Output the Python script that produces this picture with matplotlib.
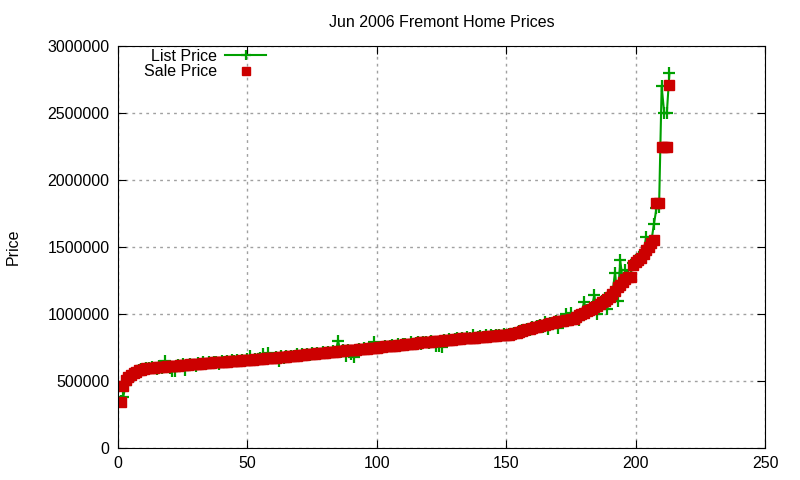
import matplotlib
matplotlib.use("Agg")
import matplotlib.pyplot as plt

plt.rcParams["font.family"] = ["Liberation Sans", "DejaVu Sans"]

# sale prices, sorted, one per home (index 1..213)
sale_price = [
    340000, 460000, 510000, 530000, 545000, 560000, 570000, 580000, 585000, 590000,
    595000, 598000, 600000, 600000, 602000, 605000, 605000, 608000, 610000, 610000,
    612000, 615000, 615000, 618000, 620000, 620000, 622000, 625000, 625000, 628000,
    630000, 630000, 632000, 635000, 635000, 638000, 640000, 640000, 640000, 642000,
    645000, 645000, 648000, 650000, 650000, 650000, 652000, 655000, 655000, 658000,
    660000, 660000, 662000, 665000, 665000, 668000, 670000, 670000, 672000, 675000,
    675000, 678000, 680000, 680000, 682000, 685000, 688000, 690000, 690000, 692000,
    695000, 698000, 700000, 700000, 702000, 705000, 708000, 710000, 710000, 712000,
    715000, 718000, 720000, 720000, 722000, 725000, 725000, 728000, 730000, 730000,
    732000, 735000, 738000, 740000, 740000, 742000, 745000, 748000, 750000, 750000,
    752000, 755000, 758000, 760000, 760000, 762000, 765000, 768000, 770000, 772000,
    775000, 778000, 780000, 780000, 782000, 785000, 788000, 790000, 790000, 792000,
    795000, 798000, 800000, 800000, 802000, 805000, 808000, 810000, 810000, 812000,
    815000, 815000, 818000, 820000, 820000, 822000, 825000, 825000, 828000, 830000,
    830000, 832000, 835000, 835000, 835000, 838000, 840000, 840000, 840000, 842000,
    845000, 850000, 855000, 860000, 868000, 875000, 880000, 885000, 890000, 895000,
    900000, 905000, 910000, 915000, 920000, 925000, 930000, 935000, 940000, 945000,
    948000, 950000, 955000, 958000, 960000, 965000, 975000, 990000, 1000000, 1010000,
    1020000, 1030000, 1040000, 1050000, 1060000, 1075000, 1090000, 1100000, 1115000, 1130000,
    1150000, 1170000, 1200000, 1220000, 1240000, 1260000, 1275000, 1280000, 1370000, 1390000,
    1400000, 1420000, 1450000, 1480000, 1500000, 1530000, 1550000, 1830000, 1830000, 2250000,
    2250000, 2250000, 2710000,
]

# asking prices for the same homes
list_price = [
    350000, 380000, 470000, 520000, 540000, 555000, 575000, 580000, 590000, 585000,
    600000, 595000, 605000, 600000, 590000, 610000, 600000, 650000, 615000, 600000,
    575000, 575000, 620000, 610000, 625000, 585000, 620000, 630000, 620000, 615000,
    635000, 628000, 640000, 630000, 640000, 635000, 645000, 640000, 630000, 648000,
    640000, 650000, 645000, 655000, 648000, 655000, 650000, 660000, 650000, 665000,
    690000, 655000, 665000, 660000, 670000, 700000, 665000, 712000, 670000, 675000,
    680000, 650000, 685000, 675000, 690000, 680000, 690000, 685000, 700000, 690000,
    700000, 695000, 705000, 698000, 710000, 700000, 712000, 705000, 715000, 710000,
    718000, 712000, 725000, 715000, 800000, 720000, 730000, 690000, 735000, 700000,
    680000, 735000, 740000, 730000, 748000, 740000, 745000, 752000, 790000, 745000,
    755000, 750000, 765000, 755000, 760000, 770000, 760000, 775000, 765000, 778000,
    780000, 770000, 790000, 778000, 785000, 790000, 780000, 795000, 790000, 785000,
    800000, 790000, 760000, 765000, 755000, 810000, 800000, 815000, 805000, 815000,
    820000, 812000, 825000, 815000, 830000, 820000, 845000, 825000, 830000, 835000,
    828000, 840000, 830000, 845000, 835000, 840000, 845000, 838000, 850000, 840000,
    850000, 845000, 860000, 855000, 870000, 880000, 875000, 890000, 880000, 900000,
    895000, 910000, 920000, 905000, 940000, 890000, 935000, 925000, 945000, 895000,
    955000, 950000, 1000000, 960000, 1005000, 970000, 960000, 955000, 1000000, 1090000,
    1030000, 1020000, 1050000, 1140000, 1000000, 1080000, 1100000, 1120000, 1040000, 1130000,
    1160000, 1310000, 1100000, 1400000, 1250000, 1330000, 1290000, 1300000, 1380000, 1400000,
    1410000, 1440000, 1460000, 1575000, 1510000, 1540000, 1670000, 1790000, 1800000, 2700000,
    2500000, 2500000, 2800000,
]

homes = list(range(1, len(sale_price) + 1))

fig = plt.figure(figsize=(8, 4.8), dpi=100)
ax = fig.add_axes([0.1475, 0.0667, 0.809, 0.837])

ax.plot(homes, list_price, color="#00a000", linewidth=1.5, marker="+",
        markersize=8, markeredgewidth=1.6, label="List Price")
ax.plot(homes, sale_price, color="#cc0000", linestyle="none", marker="s",
        markersize=6.5, label="Sale Price")

ax.set_xlim(0, 250)
ax.set_ylim(0, 3000000)
ax.set_xticks(range(0, 251, 50))
ax.set_yticks(range(0, 3000001, 500000))
ax.ticklabel_format(style="plain", axis="y")
ax.tick_params(direction="in", top=True, right=True, length=6, labelsize=11.5, pad=6)
ax.grid(True, color="#a0a0a0", linestyle=(0, (2, 3)), linewidth=1)
ax.set_axisbelow(True)

ax.set_title("Jun 2006 Fremont Home Prices", fontsize=11.5, pad=14)
ax.set_ylabel("Price", fontsize=11.5, labelpad=19)

ax.legend(loc="upper left", bbox_to_anchor=(0.0176, 1.03), frameon=False,
          markerfirst=False, fontsize=11.5, handlelength=2.6,
          labelspacing=0.05, handletextpad=0.5, markerscale=0.85)

fig.savefig("out.png")
